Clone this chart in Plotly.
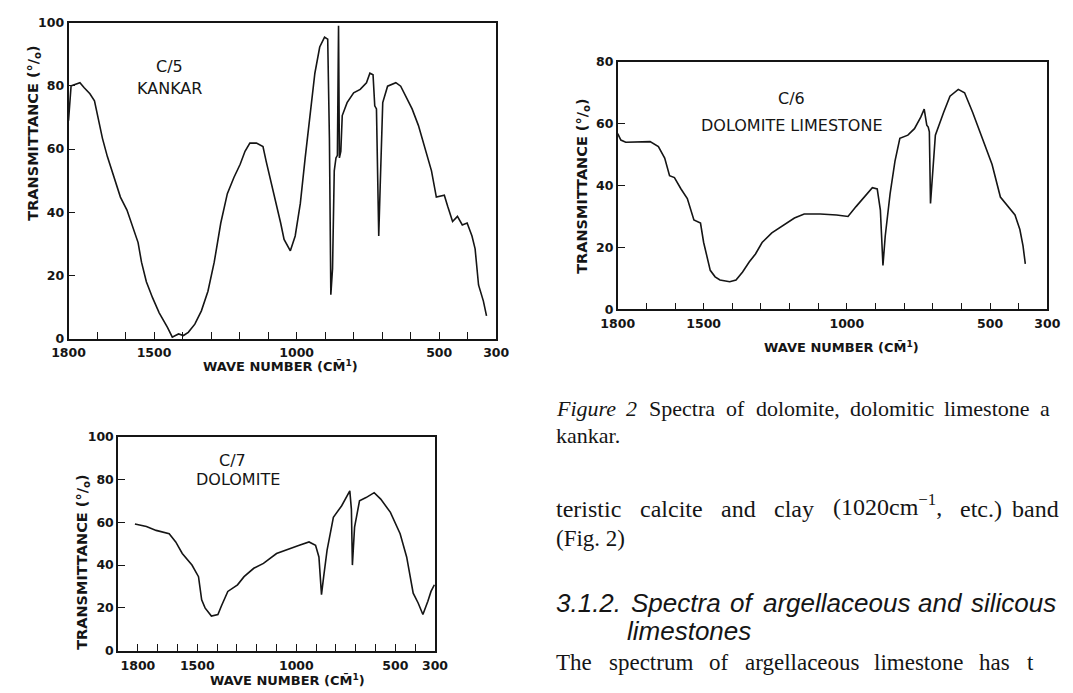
import plotly.graph_objects as go

W, H = 1073, 693

# ---------------- data (wavenumber cm-1, transmittance %) ----------------
c5_wn = [1800, 1796, 1791, 1785, 1770, 1760, 1745, 1725, 1709, 1698, 1681, 1664, 1641, 1618, 1595,
         1573, 1556, 1544, 1527, 1505, 1482, 1453, 1436, 1425, 1414, 1397, 1380, 1357, 1334, 1311,
         1289, 1266, 1243, 1220, 1198, 1181, 1164, 1141, 1118, 1107, 1090, 1073, 1056, 1044, 1022,
         1005, 987, 970, 953, 936, 919, 902, 891, 885, 880, 874, 868, 862, 857, 853, 850, 845,
         840, 823, 800, 777, 755, 743, 732, 726, 720, 716, 712, 707, 698, 681, 652, 635, 618,
         595, 573, 550, 527, 510, 495, 482, 470, 453, 436, 419, 402, 385, 374, 362, 345, 334]
c5_t = [69, 75, 80, 80.2, 80.8, 81, 79.4, 77.5, 75.3, 70.6, 63.4, 57.7, 51, 44.8, 40.7,
        34.5, 30.4, 24.2, 18, 12.9, 8.2, 3.6, 0.5, 1.0, 1.5, 1.0, 2.0, 4.6, 8.8, 15,
        24.2, 36.6, 45.9, 51, 55.2, 59.3, 61.9, 61.9, 60.8, 56.2, 50, 43.8, 36.6, 31.4, 27.8,
        32.5, 42.8, 57.2, 70.6, 84, 92.3, 95.4, 94.8, 63.4, 13.9, 22.2, 53.1, 57.2, 58, 99,
        57.2, 59.3, 70.6, 74.7, 77.8, 78.9, 81, 84, 83.5, 73.7, 72.7, 53, 32.5, 48, 74.7,
        79.9, 81, 79.9, 76.8, 72.7, 67.5, 60.3, 53.1, 44.8, 45.2, 45.4, 41.8, 37.1, 38.7,
        36, 36.6, 32.5, 28.4, 17, 11.9, 7.2]

c6_wn = [1800, 1789, 1772, 1715, 1687, 1658, 1636, 1619, 1602, 1579, 1557, 1534, 1511, 1500,
         1489, 1477, 1460, 1443, 1409, 1387, 1364, 1341, 1319, 1296, 1262, 1228, 1183, 1149,
         1093, 1036, 996, 968, 940, 911, 894, 883, 874, 866, 849, 832, 815, 787, 764, 742, 730,
         721, 716, 712, 708, 702, 691, 662, 640, 611, 589, 561, 527, 493, 464, 436, 413, 396,
         385, 377]
c6_t = [56.8, 54.7, 54, 54, 54.2, 52.6, 48.9, 43.2, 42.6, 38.9, 35.8, 28.9, 27.9, 21.6,
        17.4, 12.6, 10.5, 9.5, 8.9, 9.5, 12.1, 15.3, 17.9, 21.6, 24.7, 26.8, 29.5, 30.8,
        30.8, 30.5, 30, 33.2, 36.3, 39.3, 38.9, 32.1, 14.2, 23.7, 37.4, 47.9, 55.3, 56.3,
        58.4, 62.1, 64.7, 59.5, 58.9, 57.4, 34.2, 42.6, 56.3, 63.7, 68.9, 71.1, 70, 63.7,
        55.3, 46.8, 36.3, 33.2, 30.5, 25.8, 20.5, 14.7]

c7_wn = [1815, 1757, 1708, 1642, 1609, 1576, 1527, 1494, 1478, 1461, 1429, 1396, 1379, 1346,
         1297, 1264, 1215, 1166, 1100, 1051, 985, 936, 903, 886, 873, 862, 845, 813, 771, 730,
         722, 717, 706, 681, 648, 607, 574, 525, 476, 443, 410, 385, 361, 336, 320, 303]
c7_t = [59.2, 58, 56.2, 54.6, 50.8, 45.4, 40, 34.6, 23.8, 20, 16.2, 16.9, 20.8, 27.7,
        30.8, 34.6, 38.5, 40.8, 45.4, 46.9, 49.2, 50.8, 49.2, 43.8, 26.2, 34.6, 46.9, 62.3,
        67.7, 74.6, 66, 40, 57.7, 70, 71.5, 73.8, 70.8, 64.6, 54.6, 43.8, 26.9, 22.3, 16.9,
        23.1, 27.7, 30.8]

x_major = [1800, 1500, 1000, 500, 300]
x_major_text = ["1800", "1500", "1000", "500", "300"]
x_minor = list(range(1800, 299, -100))
c7_minor = list(range(1900, 299, -100))

# page text lines (words of each justified line)
caption1_words = ["<i>Figure</i>", "<i>2</i>", "Spectra", "of", "dolomite,", "dolomitic",
                  "limestone", "a"]
body1_words = ["teristic", "calcite", "and", "clay", "(1020cm<sup>−1</sup>,", "etc.)"]
head1_words = ["<i>3.1.2.</i>", "<i>Spectra</i>", "<i>of</i>", "<i>argellaceous</i>",
               "<i>and</i>", "<i>silicous</i>"]
body3_words = ["The", "spectrum", "of", "argellaceous", "limestone", "has", "t"]

INK = "#151515"
TICKFONT = dict(family="DejaVu Sans", size=12.5, color=INK, weight="bold")
LABFONT = dict(family="DejaVu Sans", size=16, color=INK)
YTITLEFONT = dict(family="DejaVu Sans", size=14.5, color=INK, weight="bold")
XTITLEFONT = dict(family="DejaVu Sans", size=13, color=INK, weight="bold")


def px_x(p):
    return p / W


def px_y(p):
    return 1 - p / H


fig = go.Figure()
fig.add_trace(go.Scatter(x=c5_wn, y=c5_t, mode="lines", line=dict(color=INK, width=1.6),
                         xaxis="x", yaxis="y", showlegend=False))
fig.add_trace(go.Scatter(x=c6_wn, y=c6_t, mode="lines", line=dict(color=INK, width=1.6),
                         xaxis="x2", yaxis="y2", showlegend=False))
fig.add_trace(go.Scatter(x=c7_wn, y=c7_t, mode="lines", line=dict(color=INK, width=1.6),
                         xaxis="x3", yaxis="y3", showlegend=False))


def xaxis(dom, rng, minor_vals, anchor):
    return dict(domain=dom, range=rng, tickvals=x_major, ticktext=x_major_text,
                ticks="inside", ticklen=7, tickwidth=1.4, tickcolor=INK,
                minor=dict(tickvals=minor_vals, ticks="inside", ticklen=7, tickwidth=1.4,
                           tickcolor=INK, showgrid=False),
                showline=True, mirror=True, linecolor=INK, linewidth=1.6, showgrid=False,
                zeroline=False, tickfont=TICKFONT, ticklabelstandoff=2, anchor=anchor,
                fixedrange=True)


def yaxis(dom, rng, tv, anchor):
    return dict(domain=dom, range=rng, tickvals=tv, ticks="inside", ticklen=7, tickwidth=1.4,
                tickcolor=INK, showline=True, mirror=True, linecolor=INK, linewidth=1.6,
                showgrid=False, zeroline=False, tickfont=TICKFONT, anchor=anchor,
                fixedrange=True)


fig.update_layout(
    width=W, height=H, margin=dict(l=0, r=0, t=0, b=0), paper_bgcolor="white",
    plot_bgcolor="white", showlegend=False,
    xaxis=xaxis([px_x(53), px_x(493)], [1800, 300], x_minor, "y"),
    yaxis=yaxis([px_y(338), px_y(15)], [0, 100], [0, 20, 40, 60, 80, 100], "x"),
    xaxis2=xaxis([px_x(618), px_x(1060)], [1800, 300], x_minor, "y2"),
    yaxis2=yaxis([px_y(308), px_y(55)], [0, 80], [0, 20, 40, 60, 80], "x2"),
    xaxis3=xaxis([px_x(104), px_x(430)], [1900, 300], c7_minor, "y3"),
    yaxis3=yaxis([px_y(657), px_y(438)], [0, 100], [0, 20, 40, 60, 80, 100], "x3"),
)

ann = []


def text(x, y, s, font, xanchor="center", angle=0):
    ann.append(dict(x=px_x(x), y=px_y(y), xref="paper", yref="paper", text=s, showarrow=False,
                    font=font, xanchor=xanchor, yanchor="middle", textangle=angle,
                    borderpad=0, borderwidth=0))


ytitle = "TRANSMITTANCE (°/<sub>o</sub>)"
xtitle = "WAVE NUMBER (CM\u0304<sup>1</sup>)"

# panel labels
text(157, 60, "C/5", LABFONT)
text(157, 82, "KANKAR", LABFONT)
text(797, 93, "C/6", LABFONT)
text(797, 120, "DOLOMITE LIMESTONE", LABFONT)
text(222, 463, "C/7", LABFONT)
text(227, 482, "DOLOMITE", LABFONT)

# axis titles
text(18, 128, ytitle, YTITLEFONT, angle=-90)
text(271, 366, xtitle, XTITLEFONT)
text(582, 182, ytitle, YTITLEFONT, angle=-90)
text(848, 346, xtitle, XTITLEFONT)
text(68, 567, ytitle, YTITLEFONT, angle=-90)
text(278, 687, xtitle, XTITLEFONT)

# ---- justified page text: advance widths (em) of Liberation Serif / Sans ----
SERIF_W = {"a": .444, "b": .5, "c": .444, "d": .5, "e": .444, "f": .333, "g": .5, "h": .5,
           "i": .278, "k": .5, "l": .278, "m": .778, "n": .5, "o": .5, "p": .5, "r": .333,
           "s": .389, "t": .278, "u": .5, "y": .5, "T": .611, "S": .556, "F": .611,
           "(": .333, ")": .333, ",": .25, ".": .25, "0": .5, "1": .5, "2": .5}
SANS_W = {"a": .556, "c": .5, "d": .556, "e": .556, "f": .278, "g": .556, "i": .222,
          "l": .222, "n": .556, "o": .556, "p": .556, "r": .333, "s": .5, "t": .278,
          "u": .556, "S": .667, ".": .278, "1": .556, "2": .556, "3": .556}


def word_width(w, table, size):
    plain = w.replace("<i>", "").replace("</i>", "")
    total = 0.0
    if "<sup>" in plain:
        head, rest = plain.split("<sup>")
        sup, tail = rest.split("</sup>")
        total += 0.7 * sum(0.55 for _ in sup)
        plain = head + tail
    total += sum(table.get(ch, 0.5) for ch in plain)
    return total * size


def justify(words, left, y, font, table, last_end):
    """Place words so the first starts at `left` and the last ends at `last_end`."""
    size = font["size"]
    widths = [word_width(w, table, size) for w in words]
    gap = (last_end - left - sum(widths)) / (len(words) - 1)
    x = left
    for w, wd in zip(words, widths):
        # a superscript makes the text box taller at the top; lift it to keep the baseline
        text(x, y - (4 if "<sup>" in w else 0), w, font, "left")
        x += wd + gap


CAP = dict(family="Liberation Serif", size=22, color=INK)
BODY = dict(family="Liberation Serif", size=23, color=INK)
BODY1 = dict(family="Liberation Serif", size=24, color=INK)
HEAD = dict(family="Liberation Sans", size=26, color=INK)

justify(caption1_words, 555, 409, CAP, SERIF_W, 1062)
text(555, 437, "kankar.", CAP, "left")
justify(body1_words, 555, 512, BODY1, SERIF_W, 1012)
text(1024, 512, "band", BODY1, "left")
text(555, 542, "(Fig. 2)", BODY, "left")
justify(head1_words, 555, 608, HEAD, SANS_W, 1067)
text(628, 637, "<i>limestones</i>", HEAD, "left")
justify(body3_words, 555, 669, BODY, SERIF_W, 1045)

fig.update_layout(annotations=ann)
fig.write_html("out.html")
